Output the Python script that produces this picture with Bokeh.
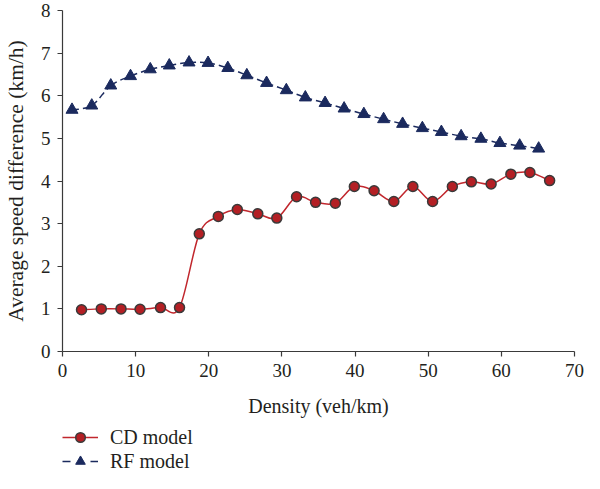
import numpy as np
from bokeh.plotting import figure
from bokeh.layouts import column
from bokeh.models import Range1d, Legend, LegendItem, FixedTicker
from bokeh.embed import file_html
from bokeh.resources import INLINE

# ---- data ----
cd_x = [2.6, 5.3, 8.0, 10.6, 13.4, 16.0, 18.7, 21.3, 23.9, 26.7, 29.3, 32.0, 34.6,
        37.3, 39.9, 42.6, 45.3, 47.9, 50.6, 53.3, 55.9, 58.6, 61.3, 63.9, 66.6]
cd_y = [0.98, 1.00, 1.00, 0.99, 1.03, 1.03, 2.76, 3.17, 3.33, 3.23, 3.13, 3.63, 3.50,
        3.48, 3.87, 3.77, 3.52, 3.87, 3.52, 3.87, 3.98, 3.93, 4.16, 4.20, 4.01]
rf_x = [1.3, 4.0, 6.6, 9.3, 12.0, 14.6, 17.3, 19.9, 22.6, 25.2, 27.9, 30.6, 33.2,
        35.9, 38.5, 41.2, 43.9, 46.5, 49.2, 51.8, 54.5, 57.2, 59.8, 62.5, 65.1]
rf_y = [5.67, 5.77, 6.24, 6.46, 6.62, 6.71, 6.78, 6.77, 6.65, 6.48, 6.30, 6.13, 5.96,
        5.83, 5.70, 5.57, 5.45, 5.34, 5.24, 5.15, 5.05, 4.99, 4.89, 4.83, 4.76]
series_names = ["CD model", "RF model"]
x_ticks = [0, 10, 20, 30, 40, 50, 60, 70]
y_ticks = [0, 1, 2, 3, 4, 5, 6, 7, 8]
x_title = "Density (veh/km)"
y_title = "Average speed difference (km/h)"

FONT = "Liberation Serif"
TXT = "#231F20"
CD_LINE = "#C1272D"
CD_FILL = "#B31F24"
CD_EDGE = "#3A3A3A"
RF_COL = "#1B2A5E"
RF_DASH = "7 4"


def smooth_segments(x, y, t=1.0 / 6.0):
    """Bezier control points of a smoothed (Catmull-Rom style) curve through the data."""
    x = np.asarray(x, float)
    y = np.asarray(y, float)
    xp = np.concatenate([[x[0]], x, [x[-1]]])
    yp = np.concatenate([[y[0]], y, [y[-1]]])
    x0, y0 = x[:-1], y[:-1]
    x1, y1 = x[1:], y[1:]
    cx0 = x0 + (xp[2:-1] - xp[:-3]) * t
    cy0 = y0 + (yp[2:-1] - yp[:-3]) * t
    cx1 = x1 - (xp[3:] - xp[1:-2]) * t
    cy1 = y1 - (yp[3:] - yp[1:-2]) * t
    return dict(x0=x0, y0=y0, x1=x1, y1=y1, cx0=cx0, cy0=cy0, cx1=cx1, cy1=cy1)


# ---------------- main chart ----------------
p = figure(width=584, height=425, output_backend="svg", toolbar_location=None,
           x_range=Range1d(0, 70), y_range=Range1d(0, 8),
           min_border_left=56, min_border_right=10, min_border_top=10, min_border_bottom=74)
p.outline_line_color = None
p.grid.visible = False
p.background_fill_color = "white"
p.border_fill_color = "white"

for ax in (p.xaxis[0], p.yaxis[0]):
    ax.axis_line_color = "#3A3A3A"
    ax.axis_line_width = 1.2
    ax.major_tick_line_color = "#3A3A3A"
    ax.major_tick_line_width = 1.2
    ax.major_tick_out = 5
    ax.major_tick_in = 0
    ax.minor_tick_line_color = None
    ax.major_label_text_font = FONT
    ax.major_label_text_font_size = "19px"
    ax.major_label_text_color = TXT
    ax.axis_label_text_font = FONT
    ax.axis_label_text_font_style = "normal"
    ax.axis_label_text_color = TXT

p.xaxis.ticker = FixedTicker(ticks=x_ticks)
p.yaxis.ticker = FixedTicker(ticks=y_ticks)
p.xaxis.axis_label = x_title
p.yaxis.axis_label = y_title
p.xaxis.axis_label_text_font_size = "20px"
p.yaxis.axis_label_text_font_size = "21.5px"
p.xaxis.major_label_standoff = 7
p.yaxis.major_label_standoff = 7
p.xaxis.axis_label_standoff = 15
p.yaxis.axis_label_standoff = 10

cd_seg = smooth_segments(cd_x, cd_y)
rf_seg = smooth_segments(rf_x, rf_y)
p.bezier(source=cd_seg, x0="x0", y0="y0", x1="x1", y1="y1", cx0="cx0", cy0="cy0",
         cx1="cx1", cy1="cy1", line_color=CD_LINE, line_width=1.5)
p.bezier(source=rf_seg, x0="x0", y0="y0", x1="x1", y1="y1", cx0="cx0", cy0="cy0",
         cx1="cx1", cy1="cy1", line_color=RF_COL, line_width=1.5, line_dash=RF_DASH)
p.scatter(cd_x, cd_y, marker="circle", size=10, fill_color=CD_FILL,
          line_color=CD_EDGE, line_width=1.5)
p.scatter(rf_x, rf_y, marker="triangle", size=12, fill_color=RF_COL,
          line_color=RF_COL, line_width=1)

# ---------------- legend strip (below the chart) ----------------
# the ranges of this strip exclude the data, so only the legend glyphs show
lg = figure(width=584, height=48, output_backend="svg", toolbar_location=None,
            x_range=Range1d(-3, -2), y_range=Range1d(-3, -2),
            x_axis_type=None, y_axis_type=None,
            min_border_left=56, min_border_right=10, min_border_top=0, min_border_bottom=0)
lg.outline_line_color = None
lg.grid.visible = False
lg.background_fill_color = "white"
lg.border_fill_color = "white"

cd_l = lg.line(cd_x, cd_y, line_color=CD_LINE, line_width=1.5)
cd_m = lg.scatter(cd_x, cd_y, marker="circle", fill_color=CD_FILL,
                  line_color=CD_EDGE, line_width=1.5)
rf_l = lg.line(rf_x, rf_y, line_color=RF_COL, line_width=1.5, line_dash="8 20")
rf_m = lg.scatter(rf_x, rf_y, marker="triangle", fill_color=RF_COL,
                  line_color=RF_COL, line_width=1)

legend = Legend(items=[
    LegendItem(label=series_names[0], renderers=[cd_l, cd_m]),
    LegendItem(label=series_names[1], renderers=[rf_l, rf_m]),
], location="bottom_left")
legend.border_line_color = None
legend.background_fill_alpha = 0
legend.padding = 0
legend.margin = 0
legend.spacing = 0
legend.glyph_width = 36
legend.glyph_height = 24
legend.label_standoff = 12
legend.label_text_font = FONT
legend.label_text_font_size = "20px"
legend.label_text_color = TXT
legend.label_height = 24
lg.add_layout(legend, "center")

open("out.html", "w").write(file_html(column(p, lg), INLINE))
